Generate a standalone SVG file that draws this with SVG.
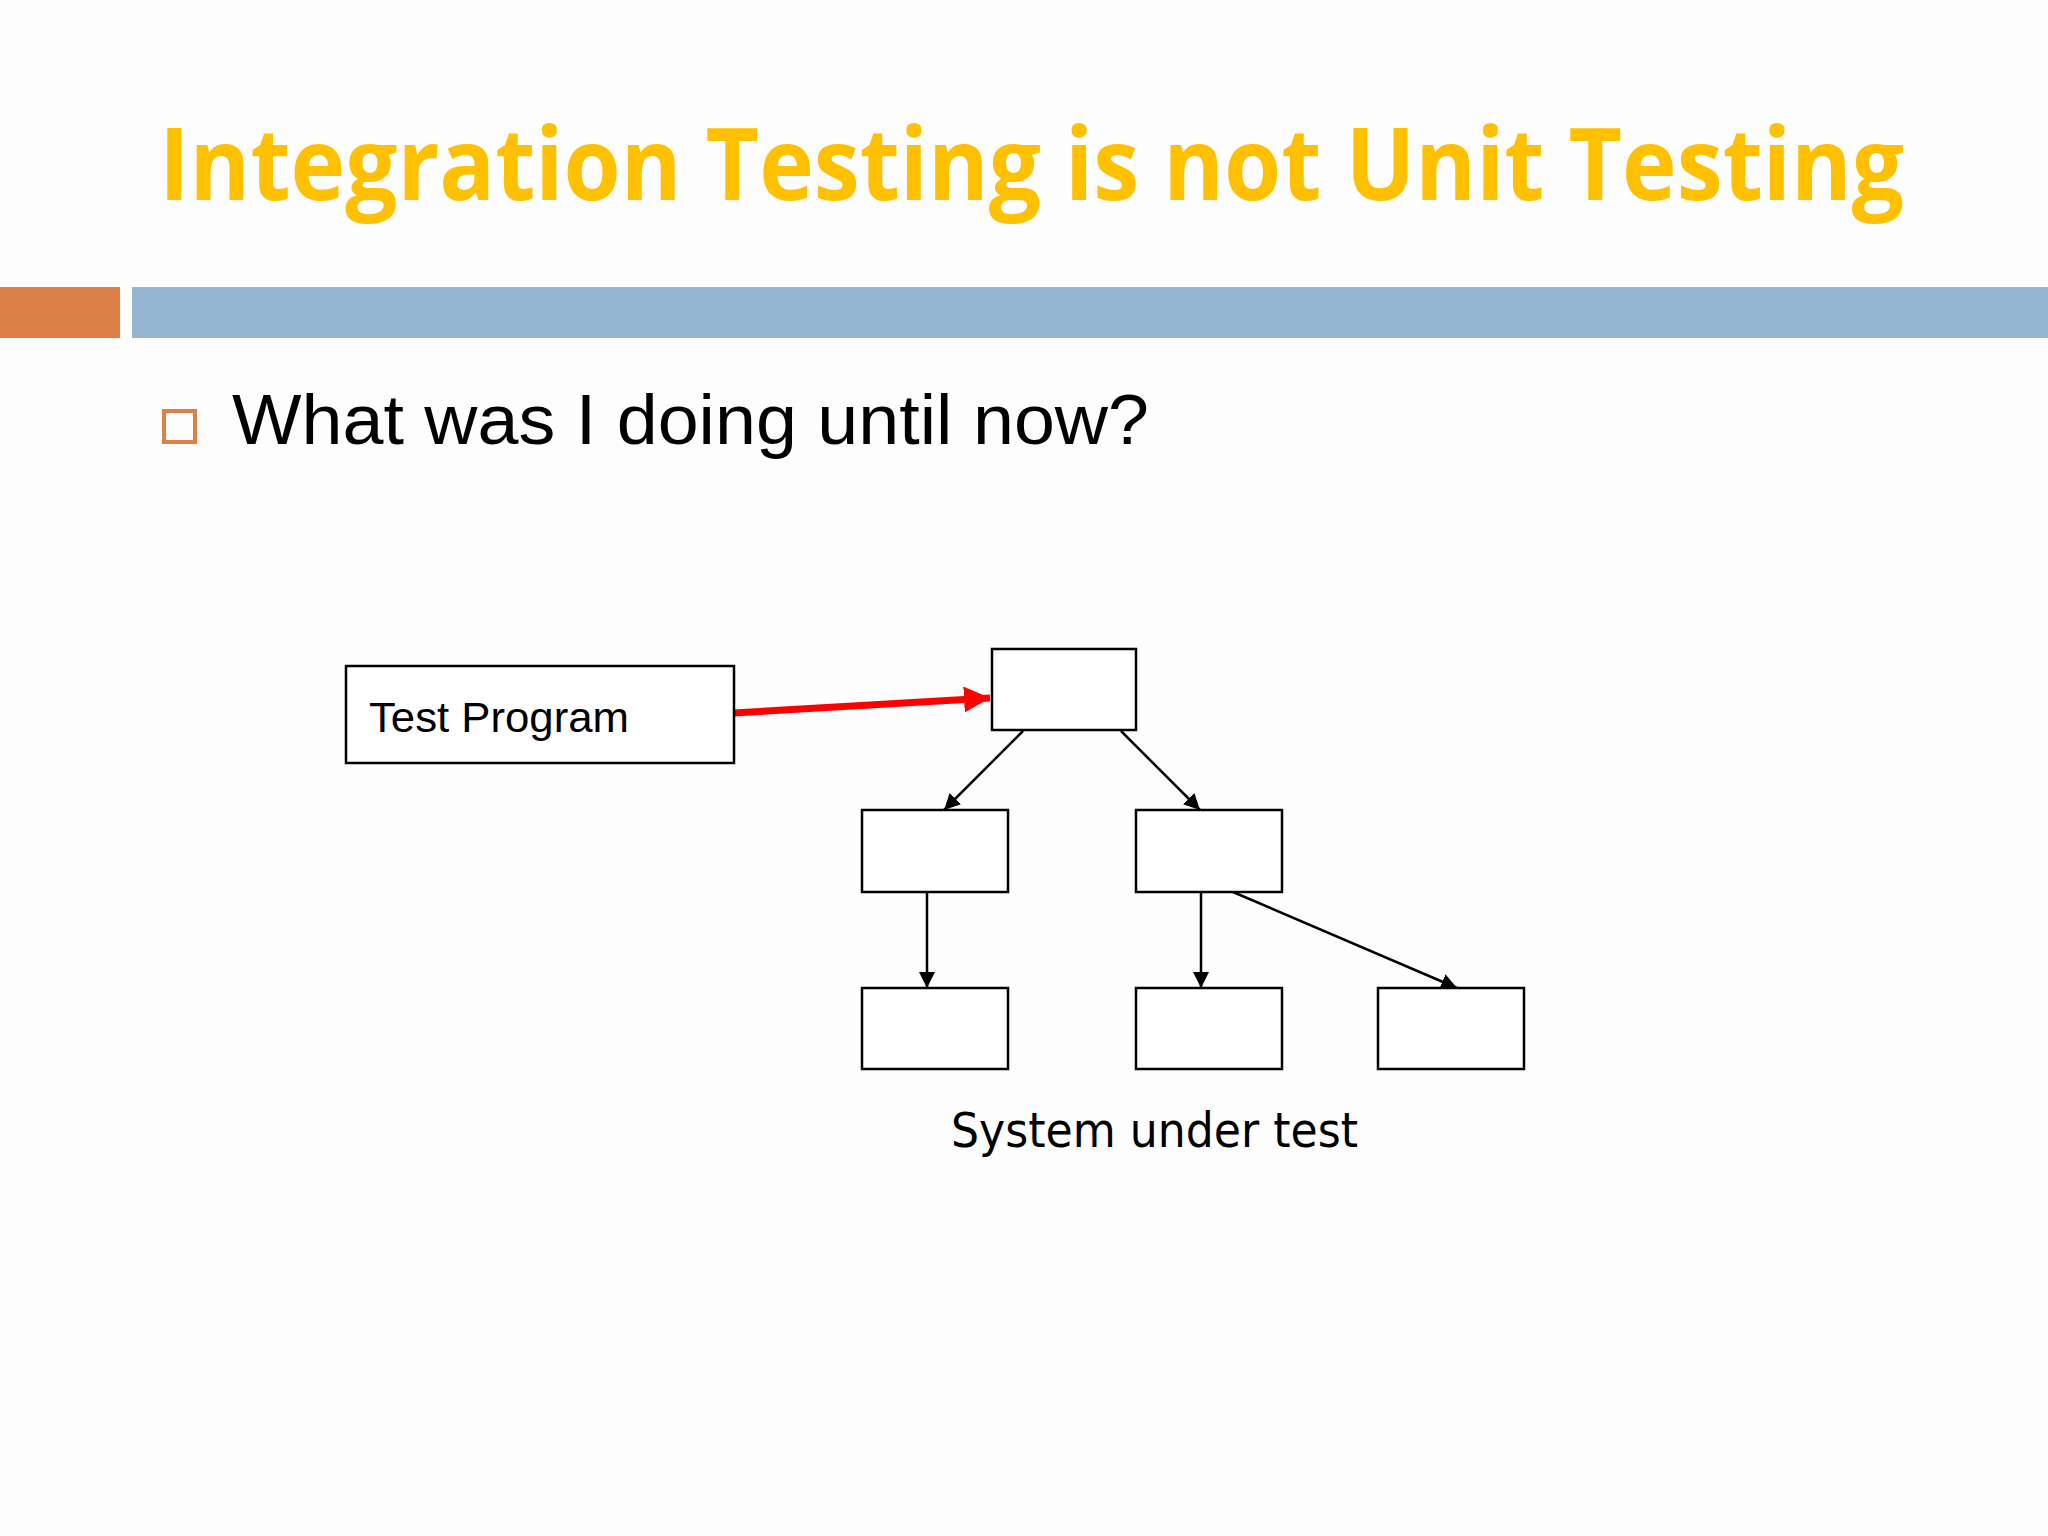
<svg xmlns="http://www.w3.org/2000/svg" width="2048" height="1536" viewBox="0 0 2048 1536">
<style>
.box{fill:#FFFFFF;stroke:#000000;stroke-width:2.5}
.conn{stroke:#000000;stroke-width:2.5;fill:none}
.lbl{font-family:"Liberation Sans",Arial,sans-serif;fill:#000000}
</style>
<defs>
<marker id="ah" viewBox="0 0 16 16" refX="16" refY="8" markerWidth="16" markerHeight="16" markerUnits="userSpaceOnUse" orient="auto">
<path d="M0,0 L16,8 L0,16 Z" fill="#000000"/>
</marker>
<marker id="ahr" viewBox="0 0 26 26" refX="26" refY="13" markerWidth="26" markerHeight="26" markerUnits="userSpaceOnUse" orient="auto">
<path d="M0,0 L26,13 L0,26 Z" fill="#FF0000"/>
</marker>
</defs>
<rect x="0" y="0" width="2048" height="1536" fill="#FDFDFD"/>
<g id="title">
<text x="159" y="200" font-family="'Open Sans','Noto Sans',sans-serif" font-weight="bold" font-size="100" fill="#FFC000" textLength="1745" lengthAdjust="spacingAndGlyphs">Integration Testing is not Unit Testing</text>
</g>
<g id="bars">
<rect x="0" y="287" width="120" height="51" fill="#DD8047"/>
<rect x="132" y="287" width="1916" height="51" fill="#94B6D2"/>
</g>
<g id="bullet">
<rect x="164" y="411" width="31" height="31" fill="none" stroke="#DD8047" stroke-width="4"/>
<text x="232" y="444" font-family="'Liberation Sans',Arial,sans-serif" font-size="70" fill="#000000" textLength="917" lengthAdjust="spacingAndGlyphs">What was I doing until now?</text>
</g>
<g id="connectors">
<line x1="734" y1="713" x2="990" y2="698" stroke="#FF0000" stroke-width="7" marker-end="url(#ahr)"/>
<line class="conn" x1="1023" y1="731" x2="944" y2="810" marker-end="url(#ah)"/>
<line class="conn" x1="1121" y1="731" x2="1200" y2="810" marker-end="url(#ah)"/>
<line class="conn" x1="927" y1="892" x2="927" y2="988" marker-end="url(#ah)"/>
<line class="conn" x1="1201" y1="892" x2="1201" y2="988" marker-end="url(#ah)"/>
<line class="conn" x1="1233" y1="892" x2="1457" y2="988" marker-end="url(#ah)"/>
</g>
<g id="test-program">
<rect class="box" x="346" y="666" width="388" height="97"/>
<text class="lbl" x="369" y="732" font-size="43" textLength="260" lengthAdjust="spacingAndGlyphs">Test Program</text>
</g>
<g id="node-top"><rect class="box" x="992" y="649" width="144" height="81"/></g>
<g id="node-mid-left"><rect class="box" x="862" y="810" width="146" height="82"/></g>
<g id="node-mid-right"><rect class="box" x="1136" y="810" width="146" height="82"/></g>
<g id="node-bottom-left"><rect class="box" x="862" y="988" width="146" height="81"/></g>
<g id="node-bottom-mid"><rect class="box" x="1136" y="988" width="146" height="81"/></g>
<g id="node-bottom-right"><rect class="box" x="1378" y="988" width="146" height="81"/></g>
<g id="caption">
<text x="951" y="1147" font-family="'DejaVu Sans',Verdana,sans-serif" font-size="48" fill="#000000" textLength="407" lengthAdjust="spacingAndGlyphs">System under test</text>
</g>
</svg>
